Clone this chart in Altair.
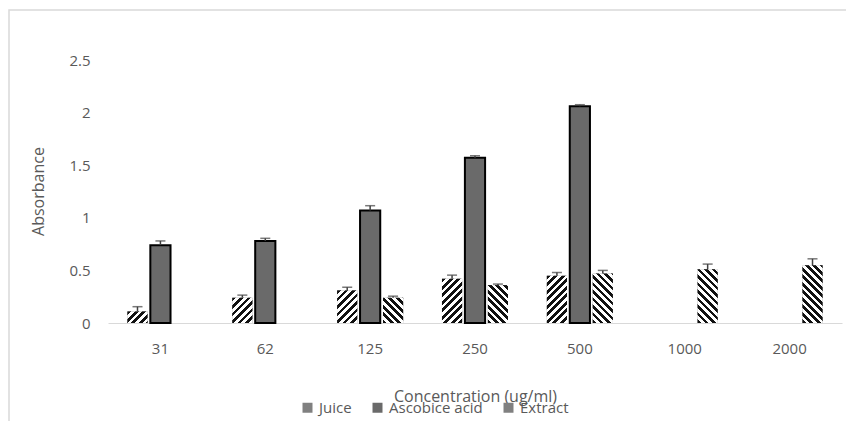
import altair as alt
import pandas as pd

concentrations = ["31", "62", "125", "250", "500", "1000", "2000"]
series_names = ["Juice", "Ascobice acid", "Extract"]

juice = [0.11, 0.24, 0.31, 0.42, 0.45, None, None]
juice_err = [0.045, 0.025, 0.03, 0.035, 0.03, None, None]
ascorbic = [0.74, 0.78, 1.07, 1.57, 2.06, None, None]
ascorbic_err = [0.04, 0.025, 0.045, 0.02, 0.015, None, None]
extract = [None, None, 0.24, 0.36, 0.47, 0.51, 0.55]
extract_err = [None, None, 0.015, 0.01, 0.03, 0.05, 0.06]

rows = []
for name, vals, errs in [("Juice", juice, juice_err),
                         ("Ascobice acid", ascorbic, ascorbic_err),
                         ("Extract", extract, extract_err)]:
    for c, v, e in zip(concentrations, vals, errs):
        if v is None:
            continue
        rows.append({"conc": c, "series": name, "value": v, "upper": v + e})
df = pd.DataFrame(rows)

FONT = "Open Sans"
GRAY = "#595959"

# hatch pattern built as a hard-stop linear gradient (fixed stripe pitch in pixels)
N_STRIPES = 12
PITCH = 7.5
L = N_STRIPES * PITCH
stops = []
for i in range(N_STRIPES):
    a = i / N_STRIPES
    m = (i + 0.5) / N_STRIPES
    b = (i + 1) / N_STRIPES
    stops += [f"{{offset:{a:.5f},color:'#111111'}}", f"{{offset:{m:.5f},color:'#111111'}}",
              f"{{offset:{m:.5f},color:'#ffffff'}}", f"{{offset:{b:.5f},color:'#ffffff'}}"]
stops_js = "[" + ",".join(stops) + "]"
W = "bandwidth('xOffset')"
H = "(scale('y',0)-scale('y',datum.value))"
D = f"({W}*{W}+{H}*{H})"
grad_fwd = (f"{{gradient:'linear',x1:0,y1:0,x2:{L}*{W}/{D},y2:{L}*{H}/{D},"
            f"stops:{stops_js}}}")
grad_back = (f"{{gradient:'linear',x1:0,y1:1,x2:{L}*{W}/{D},y2:1-{L}*{H}/{D},"
             f"stops:{stops_js}}}")

base = alt.Chart(df).encode(
    x=alt.X("conc:N", sort=concentrations,
            scale=alt.Scale(paddingInner=0.37, paddingOuter=0.185),
            axis=alt.Axis(title="Concentration (ug/ml)", labelAngle=0, ticks=False,
                          domainColor="#d9d9d9", domainWidth=1, labelPadding=18,
                          titleX=367, titleY=73, titleBaseline="middle",
                          titleFontWeight="normal")),
    xOffset=alt.XOffset("series:N", sort=series_names,
                        scale=alt.Scale(domain=series_names, paddingInner=0.12)),
    y=alt.Y("value:Q", scale=alt.Scale(domain=[0, 2.5], nice=False),
            axis=alt.Axis(title="Absorbance", values=[0, 0.5, 1, 1.5, 2, 2.5], format="~g",
                          domain=False, ticks=False, grid=False, labelPadding=18,
                          titleX=-70, titleY=131, titleAngle=-90, titleAlign="center",
                          titleBaseline="middle", titleFontWeight="normal")),
)

bars = base.mark_bar(strokeWidth=2).encode(
    fill=alt.Fill("series:N", sort=series_names,
                  scale=alt.Scale(domain=series_names, range=["#808080", "#6a6a6a", "#808080"]),
                  legend=alt.Legend(title=None, orient="none", legendX=192, legendY=340,
                                    direction="horizontal", symbolType="square", symbolSize=100,
                                    symbolStrokeWidth=0, columnPadding=18, labelOffset=4,
                                    labelFont=FONT, labelFontSize=15, labelColor=GRAY)),
    stroke=alt.Stroke("series:N", sort=series_names,
                      scale=alt.Scale(domain=series_names, range=["transparent", "#000000", "transparent"]),
                      legend=None),
)

juice_hatch = base.transform_filter("datum.series == 'Juice'").mark_bar(
    fill=alt.ExprRef(grad_fwd))
extract_hatch = base.transform_filter("datum.series == 'Extract'").mark_bar(
    fill=alt.ExprRef(grad_back))

err_rule = base.mark_rule(color="#404040", strokeWidth=1.5).encode(
    y="value:Q", y2="upper:Q")
err_cap = base.mark_tick(color="#404040", thickness=1.5, size=10, orient="horizontal").encode(
    y="upper:Q")

frame_data = alt.Data(values=[{"k": 1}])
frame = alt.Chart(frame_data).mark_rect(fill=None, stroke="#d9d9d9", strokeWidth=1.5).encode(
    x=alt.value(-99), x2=alt.value(800), y=alt.value(-50), y2=alt.value(420))

chart = alt.layer(frame, bars, juice_hatch, extract_hatch, err_rule, err_cap).properties(
    width=734, height=263,
    autosize=alt.AutoSizeParams(type="none"),
    padding={"left": 100, "top": 52, "right": 4, "bottom": 98},
).configure_view(stroke=None).configure_axis(
    labelFont=FONT, labelFontSize=15, labelColor=GRAY,
    titleFont=FONT, titleFontSize=16, titleColor=GRAY,
).configure_axisY(grid=False)

chart.save("out.html", embed_options={"renderer": "svg", "actions": False})
